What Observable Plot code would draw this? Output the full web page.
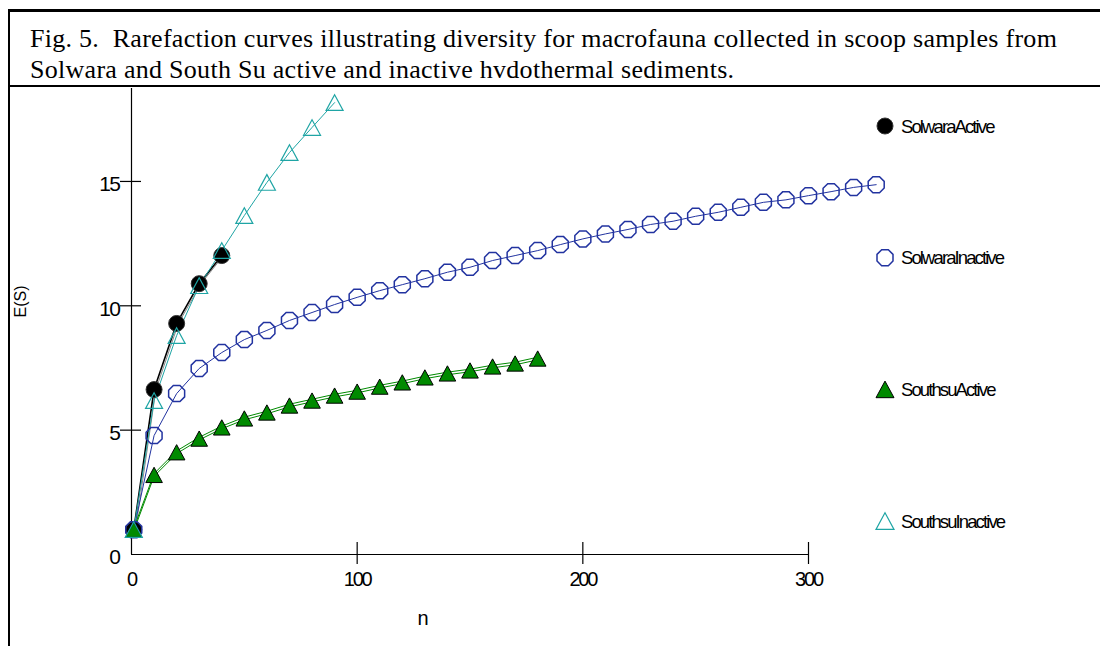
<!DOCTYPE html>
<html>
<head>
<meta charset="utf-8">
<script src="https://cdn.jsdelivr.net/npm/d3@7"></script>
<script src="https://cdn.jsdelivr.net/npm/@observablehq/plot@0.6"></script>
<style>
  html, body { margin: 0; padding: 0; background: #fff; width: 1100px; height: 646px; overflow: hidden; }
  #frame { position: absolute; left: 8px; top: 9px; width: 1200px; height: 700px;
           border-top: 3px solid #000; border-left: 2px solid #000; }
  #title { position: absolute; left: 10px; top: 12px; width: 1090px; height: 75px;
           border-bottom: 2px solid #000; box-sizing: border-box;
           font-family: "Liberation Serif", "Times New Roman", serif; font-size: 26px;
           letter-spacing: 0.28px; line-height: 31px; color: #000; padding-left: 20px;
           padding-top: 11px; white-space: pre; }
  #chartwrap { position: absolute; left: 10px; top: 88px; width: 1090px; height: 558px; overflow: hidden; }
  #chartwrap svg { position: absolute; left: -10px; top: 0; max-width: none !important; width: 1100px !important; height: 558px !important; }
  #legend { position: absolute; left: 0; top: 0; width: 1100px; height: 646px; pointer-events: none; }
</style>
</head>
<body>
<div id="frame"></div>
<div id="title">Fig. 5.  Rarefaction curves illustrating diversity for macrofauna collected in scoop samples from
Solwara and South Su active and inactive hvdothermal sediments.</div>
<div id="chartwrap"></div>
<svg id="legend" width="1100" height="646"></svg>
<script>
// ---- data ----
const seriesNames = ["SolwaraActive", "SolwaraInactive", "SouthsuActive", "SouthsuInactive"];

const nSolwaraActive = [1, 10, 20, 30, 40];
const eSolwaraActive = [1, 6.63, 9.29, 10.89, 12.02];

const nSolwaraInactive = [1, 10, 20, 30, 40, 50, 60, 70, 80, 90, 100, 110, 120, 130, 140, 150, 160, 170,
  180, 190, 200, 210, 220, 230, 240, 250, 260, 270, 280, 290, 300, 310, 320, 330];
const eSolwaraInactive = [1, 4.78, 6.47, 7.48, 8.12, 8.64, 9.01, 9.41, 9.73, 10.05, 10.34, 10.61, 10.85,
  11.09, 11.35, 11.55, 11.82, 12.02, 12.22, 12.46, 12.69, 12.89, 13.07, 13.27, 13.40, 13.60, 13.76, 13.96,
  14.16, 14.26, 14.43, 14.59, 14.76, 14.87];

const nSouthsuActive = [1, 10, 20, 30, 40, 50, 60, 70, 80, 90, 100, 110, 120, 130, 140, 150, 160, 170, 180];
const eSouthsuActive = [1, 3.2, 4.11, 4.66, 5.11, 5.47, 5.71, 5.99, 6.19, 6.39, 6.55, 6.75, 6.92, 7.12,
  7.28, 7.40, 7.56, 7.68, 7.88];

const nSouthsuInactive = [1, 10, 20, 30, 40, 50, 60, 70, 80, 90];
const eSouthsuInactive = [1, 6.19, 8.80, 10.81, 12.22, 13.63, 14.96, 16.16, 17.17, 18.17];

const xTickValues = [0, 100, 200, 300];
const xTickMarks = [100, 200, 300];
const yTickValues = [0, 5, 10, 15];
const yTickMarks = [5, 10, 15];
const xLabel = "n";
const yLabel = "E(S)";

// ---- styles ----
const BLUE = "#2233a0", GREEN = "#008a00", CYAN = "#1fa5a5";

const octagon = {
  draw(ctx, size) {
    const r = Math.sqrt(size / Math.PI);
    const R = r / Math.cos(Math.PI / 8);
    for (let k = 0; k < 8; k++) {
      const a = Math.PI / 8 + k * Math.PI / 4;
      const x = R * Math.cos(a), y = R * Math.sin(a);
      if (k === 0) ctx.moveTo(x, y); else ctx.lineTo(x, y);
    }
    ctx.closePath();
  }
};
const triangle = {
  draw(ctx, size) {
    const r = Math.sqrt(size / Math.PI);
    const h = r * 0.92;
    ctx.moveTo(0, -h);
    ctx.lineTo(r, h);
    ctx.lineTo(-r, h);
    ctx.closePath();
  }
};

const rows = (ns, vs) => ns.map((n, i) => ({n, v: vs[i]}));
const SA = rows(nSolwaraActive, eSolwaraActive);
const SI = rows(nSolwaraInactive, eSolwaraInactive);
const TA = rows(nSouthsuActive, eSouthsuActive);
const TI = rows(nSouthsuInactive, eSouthsuInactive);

const frameH = 466;
const pxPerUnit = 24.87;

const chart = Plot.plot({
  width: 1100,
  height: 558,
  marginLeft: 131,
  marginRight: 292,
  marginTop: 0,
  marginBottom: 92,
  x: {domain: [0, 300]},
  y: {domain: [0, frameH / pxPerUnit]},
  style: {fontFamily: "'Liberation Sans', Arial, sans-serif", fontSize: "20px", color: "#000", background: "transparent", overflow: "visible"},
  marks: [
    Plot.ruleX([0], {stroke: "#000", strokeWidth: 1.2}),
    Plot.ruleY([0], {stroke: "#000", strokeWidth: 1.2}),
    Plot.axisY({ticks: yTickMarks, tickSize: 21, dx: 10, tickFormat: () => "", label: null, strokeWidth: 1.2}),
    Plot.axisY({ticks: yTickValues, tickSize: 0, tickPadding: 12, dy: 3, label: null, fontSize: 21}),
    Plot.axisX({ticks: xTickMarks, tickSize: 22, dy: -12, tickFormat: () => "", label: null, strokeWidth: 1.2}),
    Plot.axisX({ticks: xTickValues, tickSize: 0, tickPadding: 17.5, label: null, fontSize: 20}),
    Plot.text([xLabel], {frameAnchor: "bottom", dx: -47, dy: 64, lineAnchor: "middle", fontSize: 20}),
    Plot.text([yLabel], {frameAnchor: "left", rotate: -90, dx: -106, dy: -4, lineAnchor: "bottom", fontSize: 16}),

    // lines
    Plot.line(SA, {x: "n", y: "v", stroke: "#888", strokeWidth: 1, dx: 1.8}),
    Plot.line(SA, {x: "n", y: "v", stroke: "#000", strokeWidth: 1.6}),
    Plot.line(SI, {x: "n", y: "v", stroke: BLUE, strokeWidth: 1}),
    Plot.line(TA, {x: "n", y: "v", stroke: GREEN, strokeWidth: 1, dy: -1.3}),
    Plot.line(TA, {x: "n", y: "v", stroke: GREEN, strokeWidth: 1, dy: 1.3}),
    Plot.line(TI, {x: "n", y: "v", stroke: CYAN, strokeWidth: 1}),

    // markers
    Plot.dot(SA, {x: "n", y: "v", r: 8, symbol: "circle", fill: "#000", stroke: "#333", strokeWidth: 1}),
    Plot.dot(SI, {x: "n", y: "v", r: 8, symbol: octagon, fill: "none", stroke: BLUE, strokeWidth: 1.5}),
    Plot.dot(TA, {x: "n", y: "v", r: 8.3, symbol: triangle, fill: GREEN, stroke: "#000", strokeWidth: 1}),
    Plot.dot(TI, {x: "n", y: "v", r: 8.5, symbol: triangle, fill: "none", stroke: CYAN, strokeWidth: 1.2})
  ]
});
d3.select(chart).selectAll('g[aria-label="x-axis tick label"] text').style("letter-spacing", "-2.2px");
d3.select(chart).selectAll('g[aria-label="y-axis tick label"] text').style("letter-spacing", "-1.5px");
document.getElementById("chartwrap").appendChild(chart);

// ---- legend ----
const legendStyles = [
  {symbol: d3.symbolCircle, r: 8, fill: "#000", stroke: "#333", sw: 1},
  {symbol: octagon, r: 8, fill: "none", stroke: BLUE, sw: 1.5},
  {symbol: triangle, r: 9, fill: GREEN, stroke: "#000", sw: 1},
  {symbol: triangle, r: 9, fill: "none", stroke: CYAN, sw: 1.2}
];
const leg = d3.select("#legend");
const legendX = 885, legendTop = 126, legendStep = 131.7;
seriesNames.forEach((name, i) => {
  const s = legendStyles[i];
  const y = legendTop + i * legendStep;
  leg.append("path")
    .attr("transform", `translate(${legendX},${y})`)
    .attr("d", d3.symbol().type(s.symbol).size(Math.PI * s.r * s.r)())
    .attr("fill", s.fill).attr("stroke", s.stroke).attr("stroke-width", s.sw);
  leg.append("text")
    .attr("x", legendX + 16).attr("y", y + 6.5)
    .attr("font-family", "'Liberation Sans', Arial, sans-serif")
    .attr("font-size", 18.5)
    .attr("letter-spacing", "-1.9px")
    .attr("fill", "#000")
    .text(name);
});
</script>
</body>
</html>
